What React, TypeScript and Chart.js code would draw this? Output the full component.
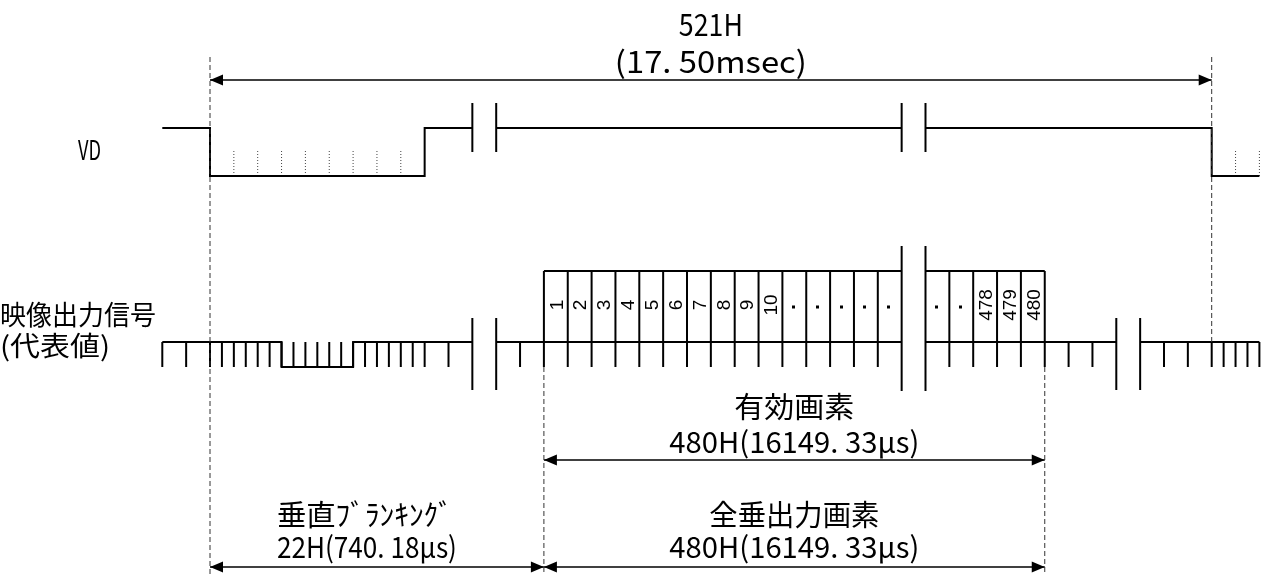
import React, { useEffect, useRef } from "react";
import { Chart, registerables } from "chart.js";

Chart.register(...registerables);

// ---------------- data (x in H units, 0 = start of vertical blanking) ----------------
// VD waveform: [H, level]  level 1 = high, 0 = low ; null = break in the drawing
const vdWave: ([number, number] | null)[] = [
  [-2, 1], [0, 1], [0, 0], [9, 0], [9, 1], [11, 1], null,
  [12, 1], [29, 1], null,
  [30, 1], [42, 1], [42, 0], [44, 0],
];
const vdSubPulses = [1, 2, 3, 4, 5, 6, 7, 8, 43, 44];
const vdBreaks = [11, 12, 29, 30];

// video output signal (representative)
const sigWave: ([number, number] | null)[] = [
  [-2, 1], [3, 1], [3, 0], [6, 0], [6, 1], [11, 1], null,
  [12, 1], [29, 1], null,
  [30, 1], [38, 1], null,
  [39, 1], [44, 1],
];
const sigTicks = [
  -2, -1, 0, 0.5, 1, 1.5, 2, 2.5, 3, 3.5, 4, 4.5, 5, 5.5, 6, 6.5, 7, 7.5, 8, 8.5, 9,
  10, 13, 36, 37, 40, 41, 42, 42.5, 43, 43.5, 44,
];
const sigBreaksShort = [11, 12, 38, 39];
const sigBreaksTall = [29, 30];

// active pixel lines
const pixelBlocks: [number, number][] = [[14, 29], [30, 35]];
const pixelEdges = [14, 15, 16, 17, 18, 19, 20, 21, 22, 23, 24, 25, 26, 27, 28, 31, 32, 33, 34, 35];
const pixelCellStarts = [14, 15, 16, 17, 18, 19, 20, 21, 22, 23, 24, 25, 26, 27, 28, 30, 31, 32, 33, 34];
const pixelLabels = ["1", "2", "3", "4", "5", "6", "7", "8", "9", "10", "·", "·", "·", "·", "·", "·", "·", "478", "479", "480"];

// dimension spans [from, to] in H
const spanTotal: [number, number] = [0, 42];
const spanActive: [number, number] = [14, 35];
const spanBlank: [number, number] = [0, 14];
const spanOutput: [number, number] = [14, 35];

const labelTotal = ["521H", "(17. 50msec)"];
const labelActive = ["有効画素", "480H(16149. 33μs)"];
const labelBlank = ["垂直ﾌﾞﾗﾝｷﾝｸﾞ", "22H(740. 18μs)"];
const labelOutput = ["全垂出力画素", "480H(16149. 33μs)"];
const rowVD = "VD";
const rowSignal = ["映像出力信号", "(代表値)"];

const guideFull = [0, 42];
const guideLower = [14, 35];

// ---------------- layout (pixels) ----------------
const W = 1268;
const H = 575;
const ORIGIN_PX = 210;
const H_PX = 23.85;
const L = {
  vdHi: 128, vdLo: 176, vdSubTop: 151, vdBreakTop: 103, vdBreakBot: 152,
  sigBase: 342, sigLow: 367, tickBot: 367, boxTop: 271,
  brShortTop: 318, brShortBot: 390, brTallTop: 246, brTallBot: 391,
  guideTop: 57, guideBot: 575, guideLowerTop: 367, guideRightBot: 342,
  dimTop: 80, dimMid: 460, dimBot: 567,
  cellLabelY: 305, dotY: 307,
};
const JP = '"Noto Sans CJK JP", "Noto Sans", sans-serif';

type P = { x: number; y: number | null };

function wave(src: ([number, number] | null)[], hi: number, lo: number): P[] {
  const out: P[] = [];
  let last = 0;
  for (const p of src) {
    if (p === null) out.push({ x: last, y: null });
    else { out.push({ x: p[0], y: p[1] ? hi : lo }); last = p[0]; }
  }
  return out;
}
function verticals(xs: number[], top: number, bot: number): P[] {
  const out: P[] = [];
  xs.forEach((x) => { out.push({ x, y: top }, { x, y: bot }, { x, y: null }); });
  return out;
}
function horizontals(spans: [number, number][], y: number): P[] {
  const out: P[] = [];
  spans.forEach(([a, b]) => { out.push({ x: a, y }, { x: b, y }, { x: b, y: null }); });
  return out;
}

function ds(data: P[], extra: any = {}) {
  return {
    data,
    borderColor: "#000",
    borderWidth: 2,
    pointRadius: 0,
    pointHoverRadius: 0,
    spanGaps: false,
    tension: 0,
    fill: false,
    borderCapStyle: "butt",
    borderJoinStyle: "miter",
    ...extra,
  };
}

function drawFitted(ctx: CanvasRenderingContext2D, text: string, x: number, y: number,
  size: number, width: number, align: "left" | "center") {
  ctx.save();
  ctx.font = `${size}px ${JP}`;
  const w = ctx.measureText(text).width;
  const sx = width / w;
  ctx.textBaseline = "middle";
  ctx.textAlign = "left";
  ctx.fillStyle = "#000";
  const left = align === "center" ? x - width / 2 : x;
  ctx.translate(left, y);
  ctx.scale(sx, 1);
  ctx.fillText(text, 0, 0);
  ctx.restore();
}

const overlayPlugin = {
  id: "overlay",
  afterDatasetsDraw(chart: any) {
    const ctx: CanvasRenderingContext2D = chart.ctx;
    const xs = chart.scales.x;
    const px = (u: number) => xs.getPixelForValue(u);

    // arrowheads on dimension lines
    chart.data.datasets.forEach((d: any, i: number) => {
      if (!d.arrow) return;
      const meta = chart.getDatasetMeta(i);
      const a = meta.data[0];
      const b = meta.data[meta.data.length - 1];
      const len = 13, hw = 5.5;
      ctx.save();
      ctx.fillStyle = "#000";
      ctx.beginPath();
      ctx.moveTo(a.x, a.y); ctx.lineTo(a.x + len, a.y - hw); ctx.lineTo(a.x + len, a.y + hw); ctx.closePath();
      ctx.moveTo(b.x, b.y); ctx.lineTo(b.x - len, b.y - hw); ctx.lineTo(b.x - len, b.y + hw); ctx.closePath();
      ctx.fill();
      ctx.restore();
    });

    // pixel line numbers (rotated)
    ctx.save();
    ctx.fillStyle = "#000";
    pixelCellStarts.forEach((s, i) => {
      const lab = pixelLabels[i];
      const cx = (px(s) + px(s + 1)) / 2;
      if (lab === "·") {
        ctx.fillRect(Math.round(cx - 2.5), L.dotY - 1.5, 3, 3);
        return;
      }
      const size = 19;
      ctx.save();
      ctx.font = `${size}px "Liberation Sans", Arial, sans-serif`;
      ctx.textAlign = "center";
      ctx.textBaseline = "alphabetic";
      ctx.translate(cx, L.cellLabelY);
      ctx.rotate(-Math.PI / 2);
      ctx.fillText(lab, 0, size * 0.716 / 2);
      ctx.restore();
    });
    ctx.restore();

    // dimension labels
    const mid = (s: [number, number]) => (px(s[0]) + px(s[1])) / 2;
    drawFitted(ctx, labelTotal[0], mid(spanTotal), 25, 30, 64, "center");
    drawFitted(ctx, labelTotal[1], mid(spanTotal), 62, 30, 192, "center");
    drawFitted(ctx, labelActive[0], mid(spanActive), 407, 29, 120, "center");
    drawFitted(ctx, labelActive[1], mid(spanActive), 442, 29, 250, "center");
    drawFitted(ctx, labelBlank[0], mid(spanBlank) - 12, 515, 29, 176, "center");
    drawFitted(ctx, labelBlank[1], mid(spanBlank) - 10, 547, 29, 180, "center");
    drawFitted(ctx, labelOutput[0], mid(spanOutput), 515, 29, 170, "center");
    drawFitted(ctx, labelOutput[1], mid(spanOutput), 547, 29, 250, "center");

    // row names
    drawFitted(ctx, rowVD, 78, 150, 27, 23, "left");
    drawFitted(ctx, rowSignal[0], 0, 315, 27, 156, "left");
    drawFitted(ctx, rowSignal[1], 0, 346, 27, 110, "left");
  },
};

export default function App() {
  const ref = useRef<HTMLCanvasElement | null>(null);

  useEffect(() => {
    if (!ref.current) return;
    const thin = { borderWidth: 1, borderColor: "#333", borderDash: [5, 3] };
    const datasets: any[] = [
      ds(verticals([guideFull[0]], L.guideTop, L.guideBot), thin),
      ds(verticals([guideFull[1]], L.guideTop, L.guideRightBot), thin),
      ds(verticals(guideLower, L.guideLowerTop, L.guideBot), thin),
      ds(wave(vdWave, L.vdHi, L.vdLo)),
      ds(verticals(vdSubPulses, L.vdSubTop, L.vdLo), { borderWidth: 1, borderColor: "#444", borderDash: [1, 2] }),
      ds(verticals(vdBreaks, L.vdBreakTop, L.vdBreakBot)),
      ds(wave(sigWave, L.sigBase, L.sigLow)),
      ds(verticals(sigTicks, L.sigBase, L.tickBot)),
      ds(horizontals(pixelBlocks, L.boxTop)),
      ds(verticals(pixelEdges, L.boxTop, L.tickBot)),
      ds(verticals(sigBreaksShort, L.brShortTop, L.brShortBot)),
      ds(verticals(sigBreaksTall, L.brTallTop, L.brTallBot)),
      ds([{ x: spanTotal[0], y: L.dimTop }, { x: spanTotal[1], y: L.dimTop }], { borderWidth: 1.3, arrow: true }),
      ds([{ x: spanActive[0], y: L.dimMid }, { x: spanActive[1], y: L.dimMid }], { borderWidth: 1.5, arrow: true }),
      ds([{ x: spanBlank[0], y: L.dimBot }, { x: spanBlank[1], y: L.dimBot }], { borderWidth: 1.5, arrow: true }),
      ds([{ x: spanOutput[0], y: L.dimBot }, { x: spanOutput[1], y: L.dimBot }], { borderWidth: 1.5, arrow: true }),
    ];

    const chart = new Chart(ref.current, {
      type: "line",
      data: { datasets },
      options: {
        animation: false,
        responsive: false,
        devicePixelRatio: 1,
        layout: { padding: 0 },
        plugins: { legend: { display: false }, tooltip: { enabled: false }, title: { display: false } },
        events: [],
        scales: {
          x: { type: "linear", display: false, min: -ORIGIN_PX / H_PX, max: (W - ORIGIN_PX) / H_PX },
          y: { type: "linear", display: false, min: 0, max: H, reverse: true },
        },
      },
      plugins: [overlayPlugin],
    } as any);
    return () => chart.destroy();
  }, []);

  return (
    <div style={{ position: "absolute", left: 0, top: 0, width: W, height: H, background: "#fff" }}>
      <canvas ref={ref} width={W} height={H} style={{ display: "block", width: W, height: H }} />
    </div>
  );
}
